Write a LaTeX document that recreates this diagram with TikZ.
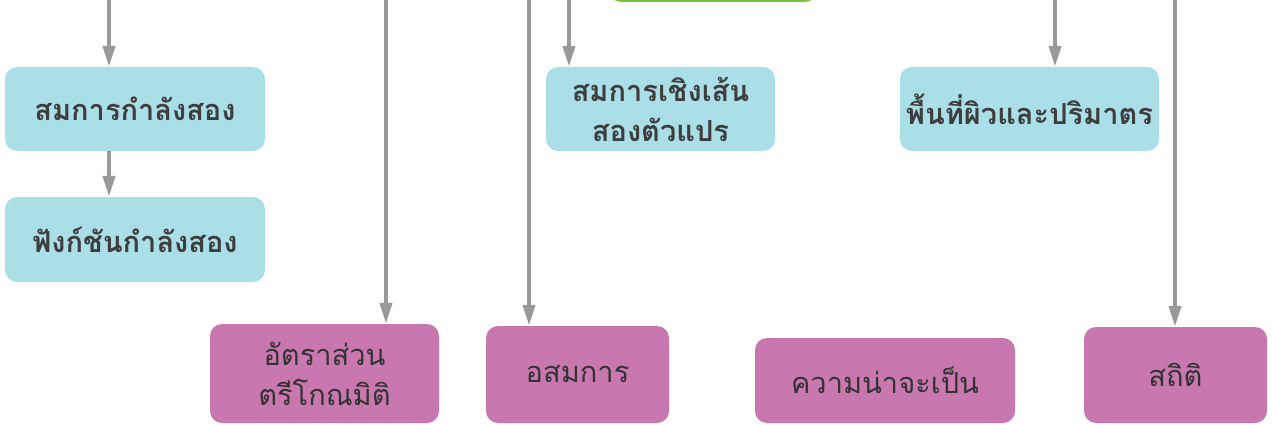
\documentclass[tikz,border=0pt]{standalone}
\usepackage{fontspec}
\newfontfamily\thaifont[Script=Thai]{Loma}
\usetikzlibrary{arrows.meta}
\definecolor{topicblue}{RGB}{171,223,232}
\definecolor{topicpink}{RGB}{200,119,175}
\definecolor{topicgreen}{RGB}{122,196,56}
\definecolor{linkgray}{RGB}{153,153,153}
\definecolor{inkgray}{RGB}{62,62,62}
\tikzset{
	topic/.style={rounded corners=12pt, inner sep=0pt, align=center,
		text=inkgray, font=\thaifont\bfseries\fontsize{29}{40}\selectfont},
	bluebox/.style={topic, fill=topicblue},
	pinkbox/.style={topic, fill=topicpink, text=black!80,
		font=\thaifont\fontsize{29}{40}\selectfont},
	link/.style={draw=linkgray, line width=4pt, -{Triangle[length=21pt,width=12pt]}}
}

\begin{document}
\begin{tikzpicture}[x=1pt,y=-1pt]
	\useasboundingbox (0,0) rectangle (1272,425);
	\path (109,0) coordinate (t1) (386,0) coordinate (t2) (529,0) coordinate (t3)
		(569,0) coordinate (t4) (1055,0) coordinate (t5) (1175,0) coordinate (t6);
	\node [draw=topicgreen, line width=3pt, rounded corners=12pt,
		minimum width=207pt, minimum height=80pt] (g) at (713,-39.5) {};
	\node [bluebox, minimum width=260pt, minimum height=84pt] (b1) at (135,109) {สมการกำลังสอง};
	\node [bluebox, minimum width=260pt, minimum height=85pt] (b2) at (135,239.5) {ฟังก์ชันกำลังสอง};
	\node [bluebox, minimum width=229pt, minimum height=84pt] (b3) at (660.5,109) {สมการเชิงเส้น\\สองตัวแปร};
	\node [bluebox, minimum width=259pt, minimum height=84pt] (b4) at (1029.5,109) {พื้นที่ผิวและปริมาตร};
	\node [pinkbox, minimum width=229pt, minimum height=99pt] (m1) at (324.5,373.5) {อัตราส่วน\\ตรีโกณมิติ};
	\node [pinkbox, minimum width=183pt, minimum height=97pt] (m2) at (577.5,374.5) {อสมการ};
	\node [pinkbox, minimum width=260pt, minimum height=85pt] (m3) at (885,380.5) {ความน่าจะเป็น};
	\node [pinkbox, minimum width=183pt, minimum height=96pt] (m4) at (1175.5,375) {สถิติ};
	\draw [link] (t1) -- (t1 |- b1.north);
	\draw [link] (b1.south -| t1) -- (b2.north -| t1);
	\draw [link] (t2) -- (t2 |- m1.north);
	\draw [link] (t3) -- (t3 |- m2.north);
	\draw [link] (t4) -- (t4 |- b3.north);
	\draw [link] (t5) -- (t5 |- b4.north);
	\draw [link] (t6) -- (t6 |- m4.north);
\end{tikzpicture}
\end{document}
